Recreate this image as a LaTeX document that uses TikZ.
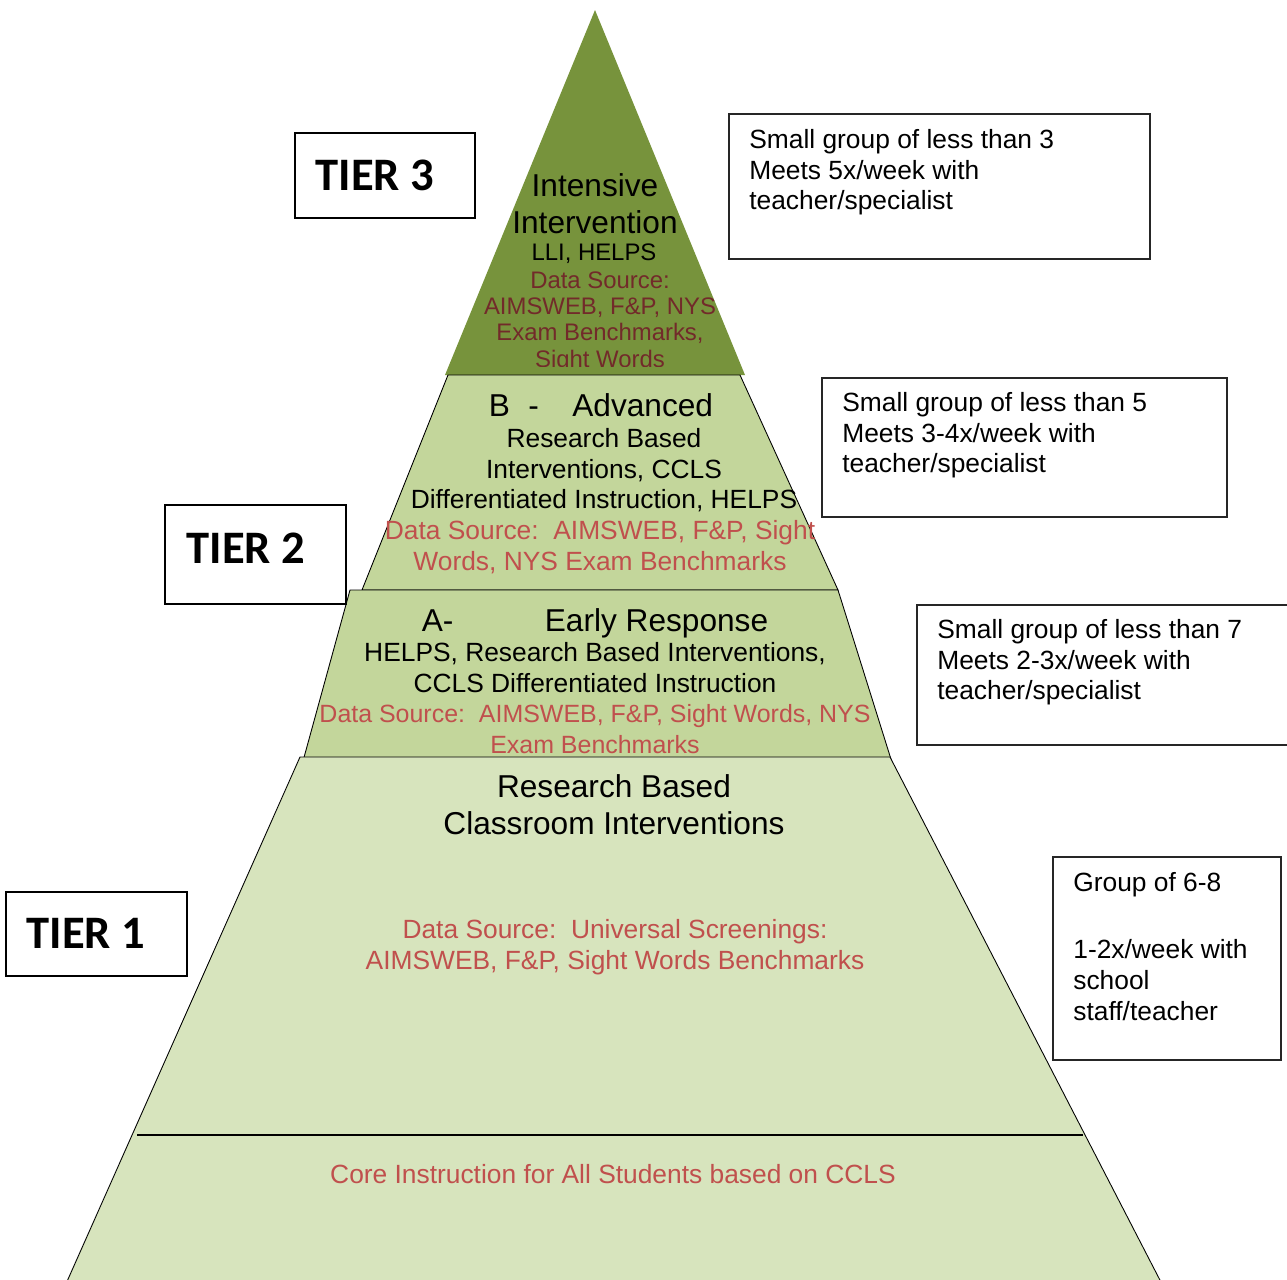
\documentclass[tikz,border=0pt]{standalone}
\usepackage{fontspec}
\setmainfont{Liberation Sans}
\newfontfamily\tierfont{Carlito}
\usepackage{tikz}
\usetikzlibrary{calc,positioning}
\usepackage{xcolor}

\definecolor{topgreen}{HTML}{77933C}
\definecolor{midgreen}{HTML}{C3D69B}
\definecolor{lowgreen}{HTML}{D7E4BD}
\definecolor{datared}{HTML}{C0504D}
\definecolor{darkred}{HTML}{722A2A}

\tikzset{
  level/.style={draw=black, line width=0.5pt},
  tierframe/.style={draw=black, line width=1.1pt},
  tierlabel/.style={inner sep=0pt, font=\tierfont\bfseries\fontsize{26.5}{30}\selectfont},
  notebox/.style={draw=black!85, line width=0.8pt},
  notetext/.style={anchor=north west, align=left, inner sep=0pt, font=\fontsize{15}{17.4}\selectfont},
  headtxt/.style={anchor=north, align=center, inner sep=0pt, font=\fontsize{18}{21}\selectfont},
  bodytxt/.style={anchor=north, align=center, inner sep=0pt, font=\fontsize{15}{17.4}\selectfont},
  datatxt/.style={bodytxt, text=datared}
}

\begin{document}
\begin{tikzpicture}[x=0.2mm, y=-0.2mm]

\useasboundingbox (0,0) rectangle (1287,1280);

% Top of the pyramid: tier 3
\fill[topgreen] (595,10) -- (745,375) -- (445,375) -- cycle;
\begin{scope}
  \clip (0,0) rectangle (1287,366);
  \node[headtxt] (t3head) at (595,173) {Intensive\\Intervention};
  \node[bodytxt, font=\fontsize{13.6}{16}\selectfont] (t3tools) at (594,243) {LLI, HELPS};
  \node[bodytxt, text=darkred, font=\fontsize{13.6}{15}\selectfont] (t3data) at (600,271)
    {Data Source:\\AIMSWEB, F\&P, NYS\\Exam Benchmarks,\\Sight Words};
\end{scope}

% Tier 2, part B
\fill[midgreen] (448,375) -- (740,375) -- (838,590) -- (362,590) -- cycle;
\draw[level] (448,375) -- (740,375) -- (838,590) -- (362,590) -- cycle;
\node[headtxt] (bhead) at (601,393) {B\hspace{10.5pt}-\hspace{19pt}Advanced};
\node[bodytxt] (btools) at (604,428)
  {Research Based\\Interventions, CCLS\\Differentiated Instruction, HELPS};
\node[datatxt] (bdata) at (600,520)
  {Data Source:\ \ AIMSWEB, F\&P, Sight\\Words, NYS Exam Benchmarks};

% Tier 2, part A
\fill[midgreen] (350,590) -- (838,590) -- (895,772) -- (300,772) -- cycle;
\draw[level] (350,590) -- (838,590) -- (895,772) -- (300,772) -- cycle;
\node[headtxt] (ahead) at (595,608) {A-\hspace{52pt}Early Response};
\node[bodytxt] (atools) at (595,642)
  {HELPS, Research Based Interventions,\\CCLS Differentiated Instruction};
\node[datatxt, font=\fontsize{14.2}{17.4}\selectfont] (adata) at (595,704)
  {Data Source:\ \ AIMSWEB, F\&P, Sight Words, NYS\\Exam Benchmarks};

% Base of the pyramid: tier 1
\fill[lowgreen] (300,757) -- (890,757) -- (1163,1286) -- (65,1286) -- cycle;
\draw[level] (65,1286) -- (300,757) -- (890,757) -- (1163,1286);
\draw[line width=1.6pt] (137,1135) -- (1083,1135);
\node[headtxt] (chead) at (614,774) {Research Based\\Classroom Interventions};
\node[datatxt] (cdata) at (615,919)
  {Data Source:\ \ Universal Screenings:\\AIMSWEB, F\&P, Sight Words Benchmarks};
\node[datatxt] (core) at (613,1164) {Core Instruction for All Students based on CCLS};

% Tier labels
\draw[tierframe] (295,133) rectangle (475,218);
\node[tierlabel] (tier3) at (375,175) {TIER 3};
\draw[tierframe] (165,505) rectangle (346,604);
\node[tierlabel] (tier2) at (246,548.5) {TIER 2};
\draw[tierframe] (6,892) rectangle (187,976);
\node[tierlabel] (tier1) at (86,933.5) {TIER 1};

% Group sizes on the right
\draw[notebox] (729,114) rectangle (1150,259);
\node[notetext] (note3) at (749,129)
  {Small group of less than 3\\Meets 5x/week with\\teacher/specialist};
\draw[notebox] (822,378) rectangle (1227,517);
\node[notetext] (noteB) at (842,392)
  {Small group of less than 5\\Meets 3-4x/week with\\teacher/specialist};
\draw[notebox] (1295,605) -- (917,605) -- (917,745) -- (1295,745);
\node[notetext] (noteA) at (937,619)
  {Small group of less than 7\\Meets 2-3x/week with\\teacher/specialist};
\draw[notebox] (1053,857) rectangle (1281,1060);
\node[notetext] (note1) at (1073,872)
  {Group of 6-8\\[21pt]1-2x/week with\\school\\staff/teacher};

\end{tikzpicture}
\end{document}
